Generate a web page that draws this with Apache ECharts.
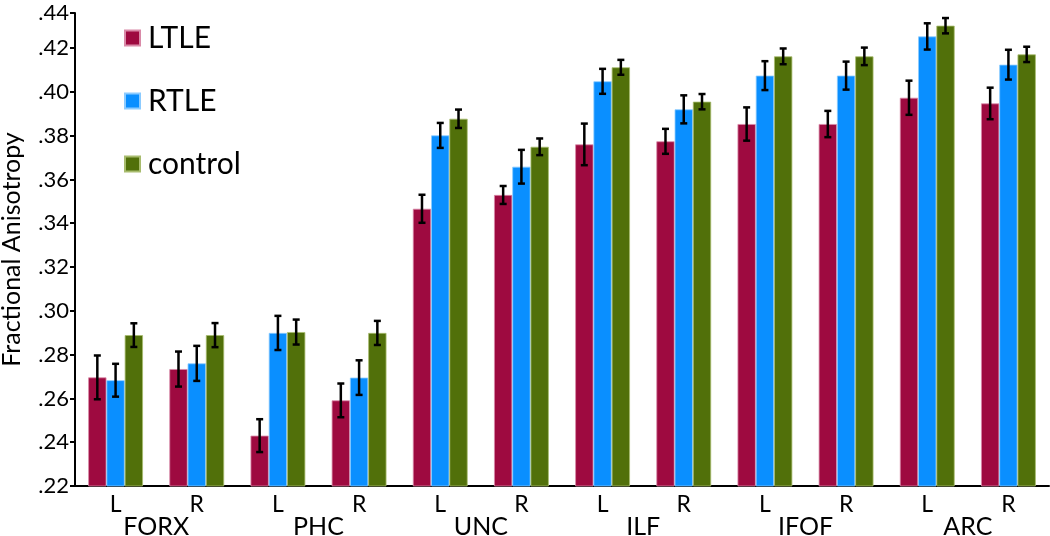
<!DOCTYPE html>
<html>
<head>
<meta charset="utf-8">
<script src="https://cdn.jsdelivr.net/npm/echarts@6/dist/echarts.min.js"></script>
<style>
  html, body { margin: 0; padding: 0; background: #fff; }
  #chart { width: 1050px; height: 536px; }
</style>
</head>
<body>
<div id="chart"></div>
<script>
// sides and tracts
var sides = ['L', 'R', 'L', 'R', 'L', 'R', 'L', 'R', 'L', 'R', 'L', 'R'];
var tracts = ['FORX', 'PHC', 'UNC', 'ILF', 'IFOF', 'ARC'];

// mean FA per group
var ltle = [0.2696, 0.2734, 0.2430, 0.2591, 0.3466, 0.3529, 0.3760, 0.3774, 0.3853, 0.3853, 0.3973, 0.3947];
var rtle = [0.2683, 0.2760, 0.2899, 0.2695, 0.3801, 0.3658, 0.4048, 0.3920, 0.4074, 0.4074, 0.4253, 0.4124];
var control = [0.2889, 0.2889, 0.2903, 0.2899, 0.3877, 0.3749, 0.4112, 0.3955, 0.4162, 0.4162, 0.4302, 0.4171];

// error bar half-lengths
var ltleErr = [0.0100, 0.0080, 0.0075, 0.0077, 0.0064, 0.0041, 0.0095, 0.0057, 0.0076, 0.0060, 0.0078, 0.0072];
var rtleErr = [0.0075, 0.0080, 0.0078, 0.0079, 0.0057, 0.0077, 0.0057, 0.0064, 0.0066, 0.0064, 0.0060, 0.0068];
var controlErr = [0.0054, 0.0055, 0.0057, 0.0055, 0.0042, 0.0038, 0.0034, 0.0035, 0.0036, 0.0040, 0.0035, 0.0035];

var colors = ['#9E0A40', '#0A8FFF', '#51700A'];
var edge = ['#D98AA8', '#8CCBFF', '#A8BC6E'];
var barPct = 0.225;

var myChart = echarts.init(document.getElementById('chart'));

function errData(vals, errs) {
    return vals.map(function (v, i) { return [i, v, errs[i]]; });
}

function errRender(slot) {
    return function (params, api) {
        var i = api.value(0), v = api.value(1), e = api.value(2);
        var p = api.coord([i, v]);
        var bw = api.size([1, 0])[0] * barPct;
        var x = p[0] + slot * bw;
        var top = api.coord([i, v + e])[1];
        var bot = api.coord([i, v - e])[1];
        var st = { stroke: '#000', lineWidth: 2.5 };
        return {
            type: 'group',
            children: [
                { type: 'line', shape: { x1: x, y1: top, x2: x, y2: bot }, style: st },
                { type: 'line', shape: { x1: x - 3.5, y1: top, x2: x + 3.5, y2: top }, style: st },
                { type: 'line', shape: { x1: x - 3.5, y1: bot, x2: x + 3.5, y2: bot }, style: st }
            ]
        };
    };
}

function barSeries(name, vals, k) {
    return {
        name: name,
        type: 'bar',
        xAxisIndex: 0,
        barWidth: (barPct * 100) + '%',
        barGap: '0%',
        itemStyle: { color: colors[k], borderColor: edge[k], borderWidth: 0.8 },
        data: vals
    };
}

function errSeries(vals, errs, slot) {
    return {
        type: 'custom',
        xAxisIndex: 0,
        z: 10,
        silent: true,
        renderItem: errRender(slot),
        data: errData(vals, errs)
    };
}

var option = {
    backgroundColor: '#fff',
    textStyle: { fontFamily: 'Lato' },
    grid: { left: 75, right: 1, top: 13, bottom: 50, containLabel: false, outerBoundsMode: 'none' },
    legend: {
        orient: 'vertical',
        left: 119,
        top: 16,
        itemWidth: 15,
        itemHeight: 15,
        itemGap: 29,
        icon: 'rect',
        data: ['LTLE', 'RTLE', 'control'],
        textStyle: { fontSize: 30, color: '#000', lineHeight: 34, padding: [0, 0, 0, 3], fontFamily: 'Lato' }
    },
    xAxis: [
        {
            type: 'category',
            data: sides,
            position: 'bottom',
            axisLine: { lineStyle: { color: '#000', width: 2 } },
            axisTick: { show: false },
            axisLabel: { color: '#000', fontSize: 23, margin: 7, fontFamily: 'Lato' }
        },
        {
            type: 'category',
            data: tracts,
            position: 'bottom',
            axisLine: { show: false },
            axisTick: { show: false },
            axisLabel: { color: '#000', fontSize: 25, margin: 28, fontFamily: 'Lato' }
        }
    ],
    yAxis: {
        type: 'value',
        min: 0.22,
        max: 0.436,
        interval: 0.02,
        name: 'Fractional Anisotropy',
        nameLocation: 'middle',
        nameGap: 51,
        nameTextStyle: { fontSize: 25, color: '#000', fontFamily: 'Lato' },
        axisLine: { show: true, lineStyle: { color: '#000', width: 2 } },
        axisTick: { show: true, length: 5, lineStyle: { color: '#000', width: 2 } },
        splitLine: { show: false },
        axisLabel: {
            color: '#000',
            fontSize: 22,
            margin: 6,
            fontFamily: 'Lato',
            formatter: function (v) {
                if (v > 0.43) return '.44';
                return v.toFixed(2).slice(1);
            }
        }
    },
    series: [
        barSeries('LTLE', ltle, 0),
        barSeries('RTLE', rtle, 1),
        barSeries('control', control, 2),
        errSeries(ltle, ltleErr, -1),
        errSeries(rtle, rtleErr, 0),
        errSeries(control, controlErr, 1)
    ]
};
myChart.setOption(option);
</script>
</body>
</html>
